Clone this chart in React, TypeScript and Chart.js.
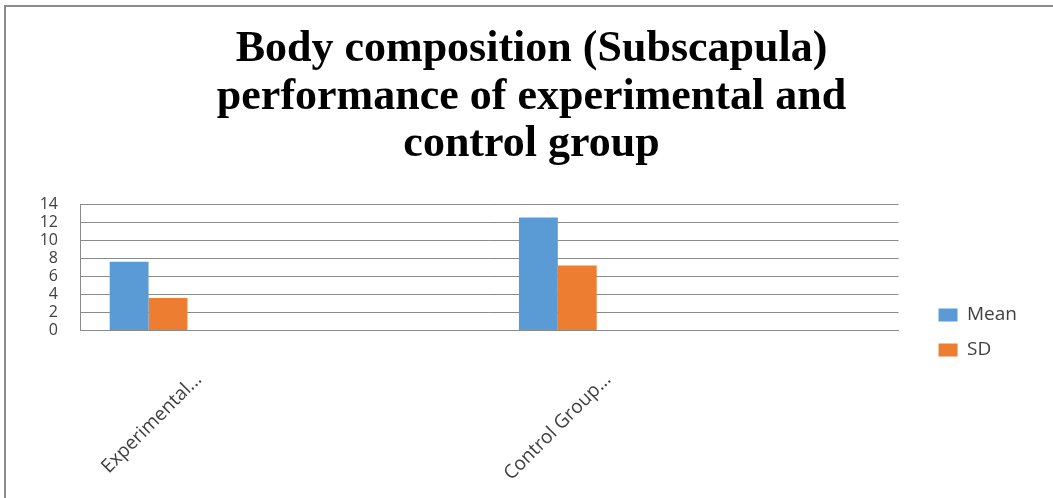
import React, { useEffect, useRef } from "react";
import { Chart, registerables } from "chart.js";

Chart.register(...registerables);

const categories = ["Experimental...", "Control Group..."];
const meanValues = [7.6, 12.5];
const sdValues = [3.6, 7.2];
const seriesLabels = ["Mean", "SD"];
const seriesColors = ["#5B9BD5", "#ED7D31"];
const titleLines = [
  "Body composition (Subscapula)",
  "performance of experimental and",
  "control group",
];
const yMin = 0;
const yMax = 14;
const yStep = 2;
// the source workbook had further (empty) series that still reserve bar slots
const emptySeriesCount = 7;

export default function App() {
  const canvasRef = useRef<HTMLCanvasElement | null>(null);

  useEffect(() => {
    if (!canvasRef.current) return;
    const empty = Array.from({ length: emptySeriesCount }, () => ({
      label: "",
      data: categories.map(() => null),
      backgroundColor: "rgba(0,0,0,0)",
    }));
    const chart = new Chart(canvasRef.current, {
      type: "bar",
      data: {
        labels: categories,
        datasets: [
          { label: seriesLabels[0], data: meanValues, backgroundColor: seriesColors[0] },
          { label: seriesLabels[1], data: sdValues, backgroundColor: seriesColors[1] },
          ...empty,
        ] as any,
      },
      options: {
        responsive: false,
        animation: false,
        devicePixelRatio: 1,
        datasets: {
          bar: { categoryPercentage: 0.855, barPercentage: 1.0 },
        },
        layout: { padding: { left: 36, right: 26, top: 0, bottom: 0 } },
        plugins: {
          tooltip: { enabled: false },
          title: {
            display: true,
            text: titleLines,
            color: "#000000",
            font: { family: "'Liberation Serif', 'Times New Roman', serif", size: 44, weight: "bold", lineHeight: 1.08 },
            padding: { top: 26, bottom: 35.5 },
          },
          legend: {
            display: true,
            position: "right",
            align: "center",
            title: {
              display: true,
              text: "",
              font: { size: 10, lineHeight: 1 },
              padding: { top: 157, bottom: 0 },
            },
            labels: {
              filter: (item: any) => item.text !== "",
              boxWidth: 19,
              boxHeight: 13,
              padding: 16,
              color: "#404040",
              font: { family: "'Open Sans', sans-serif", size: 19 },
            },
          },
        },
        scales: {
          x: {
            grid: { display: false },
            border: { display: true, color: "#8a8a8a", width: 1 },
            ticks: {
              autoSkip: false,
              minRotation: 45,
              maxRotation: 45,
              labelOffset: -86,
              padding: 30,
              color: "#404040",
              font: { family: "'Open Sans', sans-serif", size: 19 },
            },
            afterFit: (scale: any) => {
              scale.height = 167.5;
            },
          },
          y: {
            min: yMin,
            max: yMax,
            grid: { color: "#8a8a8a", lineWidth: 1, drawTicks: false },
            border: { display: true, color: "#8a8a8a", width: 1 },
            ticks: {
              autoSkip: false,
              stepSize: yStep,
              padding: 22,
              color: "#404040",
              font: { family: "'Open Sans', sans-serif", size: 16, lineHeight: 1 },
            },
            afterFit: (scale: any) => {
              scale.width = 44;
            },
          },
          gap: {
            type: "linear",
            position: "right",
            display: true,
            grid: { display: false, drawTicks: false },
            border: { display: false },
            ticks: { display: false },
            afterFit: (scale: any) => {
              scale.width = 24;
            },
          },
        },
      } as any,
    });
    return () => chart.destroy();
  }, []);

  return (
    <div
      style={{
        position: "absolute",
        left: 0,
        top: 0,
        width: 1053,
        height: 498,
        overflow: "hidden",
        background: "#ffffff",
      }}
    >
      <div
        style={{
          position: "absolute",
          left: 4,
          top: 5,
          width: 1200,
          height: 700,
          borderLeft: "2px solid #8c8c8c",
          borderTop: "2px solid #8c8c8c",
        }}
      />
      <canvas
        ref={canvasRef}
        width={1053}
        height={498}
        style={{ position: "absolute", left: 0, top: 0, width: 1053, height: 498 }}
      />
    </div>
  );
}
